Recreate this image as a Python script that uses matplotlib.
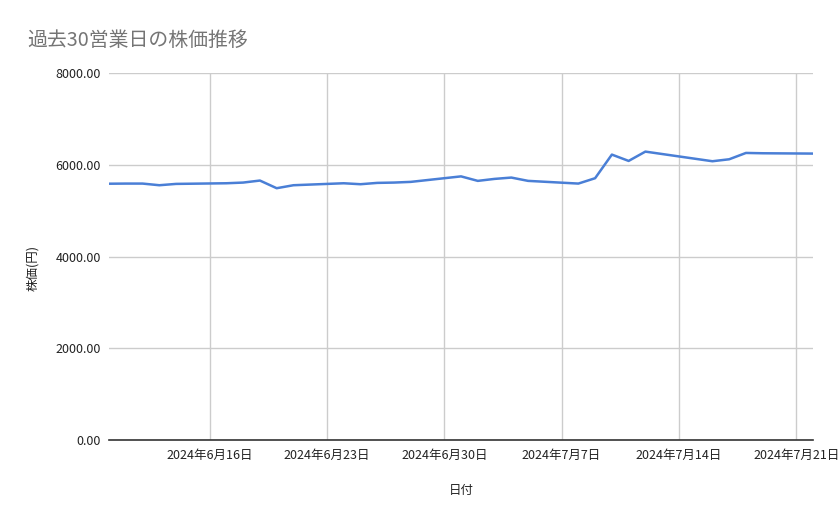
import datetime as dt

import matplotlib.pyplot as plt
from matplotlib.ticker import FuncFormatter

plt.rcParams['font.family'] = ['Noto Sans CJK JP', 'DejaVu Sans']

# 過去30営業日 (東証, 7/15 海の日は休場)
dates = ["2024-06-10", "2024-06-11", "2024-06-12", "2024-06-13", "2024-06-14",
         "2024-06-17", "2024-06-18", "2024-06-19", "2024-06-20", "2024-06-21",
         "2024-06-24", "2024-06-25", "2024-06-26", "2024-06-27", "2024-06-28",
         "2024-07-01", "2024-07-02", "2024-07-03", "2024-07-04", "2024-07-05",
         "2024-07-08", "2024-07-09", "2024-07-10", "2024-07-11", "2024-07-12",
         "2024-07-16", "2024-07-17", "2024-07-18", "2024-07-19", "2024-07-22"]
prices = [5590, 5593, 5593, 5557, 5586,
          5600, 5615, 5659, 5492, 5557,
          5600, 5579, 5608, 5615, 5630,
          5750, 5652, 5695, 5724, 5652,
          5593, 5710, 6225, 6087, 6290,
          6080, 6123, 6261, 6254, 6247]
y_ticks = [0, 2000, 4000, 6000, 8000]
x_ticks = ["2024-06-16", "2024-06-23", "2024-06-30", "2024-07-07", "2024-07-14", "2024-07-21"]

x = [dt.datetime.strptime(d, "%Y-%m-%d") for d in dates]
xt = [dt.datetime.strptime(d, "%Y-%m-%d") for d in x_ticks]

fig = plt.figure(figsize=(8.39, 5.19), dpi=100)
ax = fig.add_axes([0.130, 0.152, 0.839, 0.707])

ax.plot(x, prices, color="#4a7fd6", linewidth=1.8)

ax.set_xlim(x[0], x[-1])
ax.set_ylim(0, 8000)
ax.set_yticks(y_ticks)
ax.yaxis.set_major_formatter(FuncFormatter(lambda v, p: f"{v:.2f}"))
ax.set_xticks(xt)
ax.set_xticklabels([f"{d.year}年{d.month}月{d.day}日" for d in xt])

ax.grid(True, color="#cccccc", linewidth=1)
ax.set_axisbelow(True)
for s in ["top", "right", "left"]:
    ax.spines[s].set_visible(False)
ax.spines["bottom"].set_color("#333333")
ax.spines["bottom"].set_linewidth(1.2)
ax.tick_params(axis="both", length=0, labelsize=9, colors="#222222")
ax.tick_params(axis="y", pad=6)
ax.tick_params(axis="x", pad=6)

ax.set_xlabel("日付", fontsize=9, color="#222222", labelpad=16)
ax.set_ylabel("株価(円)", fontsize=9, color="#222222")
ax.yaxis.set_label_coords(-0.100, 0.47)

fig.text(0.032, 0.923, "過去30営業日の株価推移", fontsize=14.3, color="#757575",
         va="center", ha="left")

fig.savefig("out.png", dpi=100)
